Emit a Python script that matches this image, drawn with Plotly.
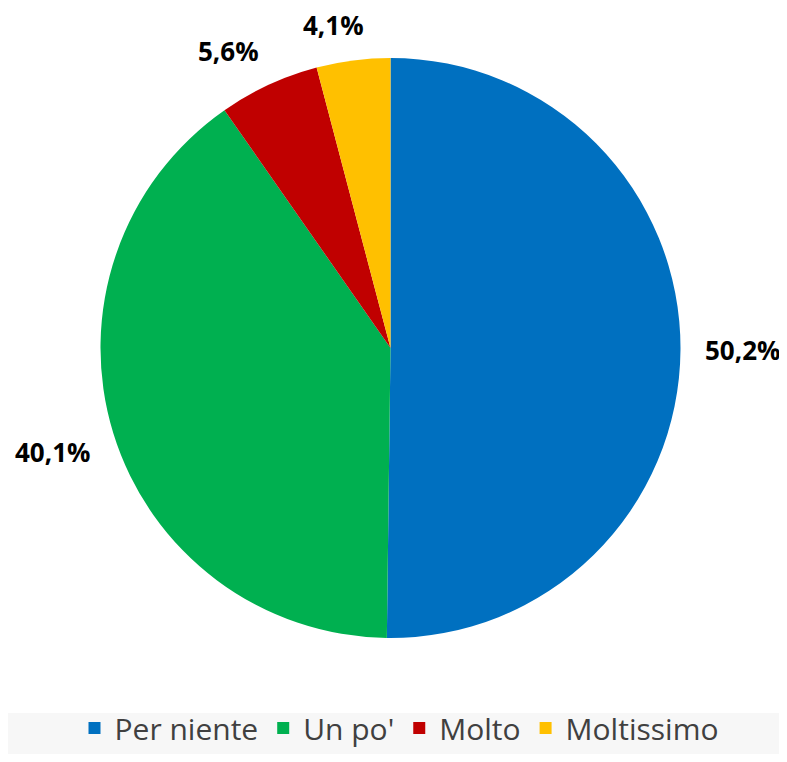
import math

import plotly.graph_objects as go

categories = ["Per niente", "Un po'", "Molto", "Moltissimo"]
values = [50.2, 40.1, 5.6, 4.1]
colors = ["#0070C0", "#00B050", "#C00000", "#FFC000"]

# page body has an 8px margin, so the figure is drawn 8px in from the window edge
W, H = 771, 746
cx, cy, r = 382.5, 340, 290
label_gap = 25

fig = go.Figure(
    go.Pie(
        labels=categories,
        values=values,
        sort=False,
        direction="clockwise",
        rotation=0,
        marker=dict(colors=colors, line=dict(width=0)),
        textinfo="none",
        hoverinfo="label+value",
        domain=dict(x=[(cx - r) / W, (cx + r) / W], y=[1 - (cy + r) / H, 1 - (cy - r) / H]),
    )
)


def clamp(v):
    return max(-1.0, min(1.0, v))


# outside-end labels placed from the slice mid-angles
total = sum(values)
cum = 0
for v in values:
    mid = (cum + v / 2) / total * 2 * math.pi
    cum += v
    txt = f"{v:.1f}%".replace(".", ",")
    ux, uy = math.sin(mid), -math.cos(mid)
    hw, hh = len(txt) * 7.4, 11
    px = cx + (r + label_gap) * ux + hw * clamp(4.3 * ux)
    py = cy + (r + label_gap) * uy + hh * clamp(4.3 * uy)
    fig.add_annotation(
        x=px / W, y=1 - py / H, xref="paper", yref="paper",
        text=f"<b>{txt}</b>", showarrow=False,
        xanchor="center", yanchor="middle",
        font=dict(family="Open Sans", size=26, color="#000000"),
    )

fig.add_shape(type="rect", xref="paper", yref="paper", x0=0, x1=1, y0=0, y1=(H - 705) / H,
              fillcolor="#F7F7F7", line=dict(width=0), layer="below")

fig.update_layout(
    width=W, height=H,
    margin=dict(l=0, r=0, t=0, b=0),
    paper_bgcolor="white",
    showlegend=True,
    legend=dict(
        orientation="h", x=391 / W, y=0, xanchor="center", yanchor="bottom",
        font=dict(family="Open Sans", size=30, color="#404040"),
        bgcolor="rgba(0,0,0,0)", itemsizing="constant",
    ),
)

fig.write_html("out.html")
